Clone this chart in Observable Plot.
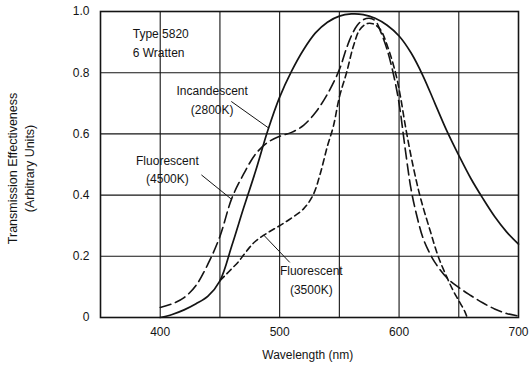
<!DOCTYPE html>
<html><head><meta charset="utf-8">
<script src="https://cdn.jsdelivr.net/npm/d3@7"></script>
<script src="https://cdn.jsdelivr.net/npm/@observablehq/plot@0.6"></script>
<style>html,body{margin:0;padding:0;background:#fff;} svg{display:block}</style>
</head><body><div id="chart"></div>
<script>
// Incandescent (2800K) – solid
const incWl  = [400,410,420,430,440,450,460,470,480,490,500,510,520,530,540,550,560,570,580,590,600,610,620,630,640,650,660,670,680,690,700];
const incVal = [0,0.01,0.025,0.045,0.07,0.12,0.235,0.36,0.48,0.61,0.72,0.805,0.875,0.93,0.965,0.985,0.992,0.99,0.978,0.955,0.92,0.865,0.79,0.70,0.61,0.53,0.455,0.39,0.33,0.28,0.24];
// Fluorescent (4500K) – long dash
const f45Wl  = [400,410,420,430,440,450,460,470,480,490,500,510,520,530,540,550,556,560,565,570,575,580,585,590,595,600,605,610,615,620,625,630,640,650,660,670,680,690,700];
const f45Val = [0.033,0.045,0.065,0.105,0.175,0.265,0.39,0.47,0.535,0.572,0.592,0.605,0.628,0.67,0.73,0.81,0.88,0.92,0.955,0.973,0.978,0.97,0.93,0.875,0.80,0.70,0.555,0.42,0.33,0.26,0.215,0.18,0.13,0.098,0.072,0.048,0.028,0.013,0.005];
// Fluorescent (3500K) – short dash
const f35Wl  = [450,455,460,465,470,475,480,490,500,510,520,528,534,540,545,550,556,562,567,573,578,584,590,597,601,606,612,618,626,633,640,645,650,655,657];
const f35Val = [0.12,0.14,0.16,0.18,0.205,0.23,0.25,0.277,0.30,0.325,0.355,0.40,0.47,0.56,0.625,0.72,0.80,0.89,0.94,0.96,0.96,0.943,0.89,0.80,0.725,0.61,0.49,0.39,0.284,0.197,0.132,0.09,0.055,0.02,0];

const xTicks = [400,500,600,700];
const yTicks = [0,0.2,0.4,0.6,0.8,1.0];
const xGrid = [400,450,500,550,600,650];
const yGrid = [0.2,0.4,0.6,0.8];

// annotation texts (data-space anchors)
const labelText = ["Type 5820","6 Wratten","Incandescent","(2800K)","Fluorescent","(4500K)","Fluorescent","(3500K)"];
const labelX    = [377,377,443.5,443.5,406,406,526.5,526.5];
const labelY    = [0.925,0.863,0.739,0.676,0.51,0.452,0.15,0.088];
const labelAnchor = ["start","start","middle","middle","middle","middle","middle","middle"];
// leader lines
const leadX1 = [459.5,434.5,508.5];
const leadY1 = [0.706,0.466,0.18];
const leadX2 = [490.5,459.2,486.5];
const leadY2 = [0.62,0.388,0.27];

const xTitle = "Wavelength (nm)";
const yTitle1 = "Transmission Effectiveness";
const yTitle2 = "(Arbitrary Units)";

const toRows = (w, v) => w.map((d, i) => ({wl: d, v: v[i]}));
const inc = toRows(incWl, incVal);
const f45 = toRows(f45Wl, f45Val);
const f35 = toRows(f35Wl, f35Val);
const labels = labelText.map((t, i) => ({t, x: labelX[i], y: labelY[i], a: labelAnchor[i]}));
const leaders = leadX1.map((d, i) => ({x1: d, y1: leadY1[i], x2: leadX2[i], y2: leadY2[i]}));

const ink = "#141414";
const font = "'Liberation Sans', Arial, sans-serif";

const plot = Plot.plot({
  width: 529, height: 365,
  marginLeft: 100, marginRight: 11, marginTop: 11, marginBottom: 48,
  x: {domain: [350, 700]},
  y: {domain: [0, 1]},
  style: {fontFamily: font, fontSize: "12px", background: "#fff", color: ink},
  marks: [
    Plot.gridX(xGrid, {stroke: ink, strokeOpacity: 1, strokeWidth: 1.1}),
    Plot.gridY(yGrid, {stroke: ink, strokeOpacity: 1, strokeWidth: 1.1}),
    Plot.frame({stroke: ink, strokeWidth: 1.6}),
    Plot.axisX(xTicks, {tickSize: 0, tickPadding: 10, label: null, fontSize: 12}),
    Plot.axisY(yTicks, {tickSize: 0, tickPadding: 11, label: null, fontSize: 12,
      tickFormat: d => d === 0 ? "0" : d.toFixed(1)}),
    Plot.line(inc, {x: "wl", y: "v", stroke: ink, strokeWidth: 1.7, curve: "catmull-rom"}),
    Plot.line(f45, {x: "wl", y: "v", stroke: ink, strokeWidth: 1.6, strokeDasharray: "11,5", curve: "catmull-rom"}),
    Plot.line(f35, {x: "wl", y: "v", stroke: ink, strokeWidth: 1.6, strokeDasharray: "6,4", curve: "catmull-rom"}),
    Plot.link(leaders, {x1: "x1", y1: "y1", x2: "x2", y2: "y2", stroke: ink, strokeWidth: 1}),
    Plot.text(labels.filter(d => d.a === "start"), {x: "x", y: "y", text: "t", textAnchor: "start", fontSize: 12, fill: ink}),
    Plot.text(labels.filter(d => d.a === "middle"), {x: "x", y: "y", text: "t", textAnchor: "middle", fontSize: 12, fill: ink}),
    Plot.text([xTitle], {x: 523.5, y: -0.124, text: d => d, fontSize: 12, fill: ink}),
    Plot.text([yTitle1], {x: 276.5, y: 0.487, text: d => d, rotate: -90, fontSize: 12.5, fill: ink, style: "letter-spacing:0.3px"}),
    Plot.text([yTitle2], {x: 290.8, y: 0.487, text: d => d, rotate: -90, fontSize: 12.5, fill: ink, style: "letter-spacing:0.3px"})
  ]
});
document.getElementById("chart").appendChild(plot);
</script>
</body></html>
